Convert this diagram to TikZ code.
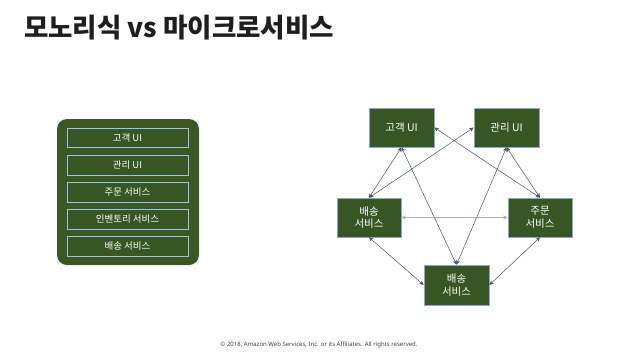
\documentclass[tikz,border=0pt]{standalone}
\usepackage{fontspec}
\setmainfont{Noto Sans CJK KR}
\newfontfamily\latinfont{Noto Sans}
\usetikzlibrary{arrows.meta,positioning}
\definecolor{bosque}{HTML}{375623}
\definecolor{musgo}{HTML}{3B5824}
\definecolor{celeste}{HTML}{9DC3E6}
\definecolor{acero}{HTML}{8EA9C1}
\definecolor{pizarra}{HTML}{44546A}
\definecolor{niebla}{HTML}{A6AEB8}
\definecolor{tinta}{HTML}{1E1E1E}
\tikzset{
  capa/.style={draw=celeste,fill=bosque,text=white,font=\fontsize{9.5}{11}\selectfont,
               minimum width=121pt,minimum height=19.5pt,inner sep=0pt,line width=0.6pt},
  servicio/.style={draw=acero,fill=bosque,text=white,font=\fontsize{10.5}{12.5}\selectfont,
               minimum width=65pt,minimum height=39pt,inner sep=0pt,line width=0.6pt,
               align=center},
  enlace/.style={pizarra,line width=0.5pt,{Stealth[length=4.5pt,width=4pt]}-{Stealth[length=4.5pt,width=4pt]}},
}
\begin{document}
\begin{tikzpicture}[x=1pt,y=1pt,line cap=round]
    \useasboundingbox (0,0) rectangle (638,-359);
    % --- titulo ---
    \node[anchor=west,inner sep=0pt,text=tinta,font=\fontsize{26.5}{30}\selectfont\bfseries]
         (titulo) at (24,-28) {모노리식 vs 마이크로서비스};
    % --- monolito ---
    \node[fill=musgo,rounded corners=10pt,minimum width=142pt,minimum height=146pt,inner sep=0pt]
         (mono) at (128,-192) {};
    \node[capa] (m1) at (127.5,-138) {고객 UI};
    \node[capa,below=7pt of m1] (m2) {관리 UI};
    \node[capa,below=7pt of m2] (m3) {주문 서비스};
    \node[capa,below=7pt of m3] (m4) {인벤토리 서비스};
    \node[capa,below=7pt of m4] (m5) {배송 서비스};
    % --- microservicios ---
    \node[servicio] (cliente) at (401.5,-127.5) {고객  UI};
    \node[servicio] (gestion) at (506.5,-127.5) {관리 UI};
    \node[servicio,minimum width=64pt] (envioI) at (369,-217.5) {배송\\서비스};
    \node[servicio,minimum width=64pt] (pedido) at (540,-217.5) {주문\\서비스};
    \node[servicio,minimum height=40pt] (envioB) at (456.5,-285) {배송\\서비스};
    % --- conexiones ---
    \foreach \A/\B in {cliente.south/envioI.north,gestion.west/envioI.north,
                       cliente.east/pedido.north,gestion.south/pedido.north,
                       cliente.south/envioB.north,gestion.south/envioB.north,
                       envioI.south/envioB.west,pedido.south/envioB.east}{
      \draw[enlace] (\A) -- (\B);
    }
    \draw[enlace,niebla,line width=1.6pt] (envioI.east) -- (pedido.west);
    % --- pie ---
    \node[text=tinta!85,font=\latinfont\fontsize{6}{7}\selectfont,inner sep=0pt]
         (pie) at (319,-345) {© 2018, Amazon Web Services, Inc. or its Affiliates. All rights reserved.};
\end{tikzpicture}
\end{document}
